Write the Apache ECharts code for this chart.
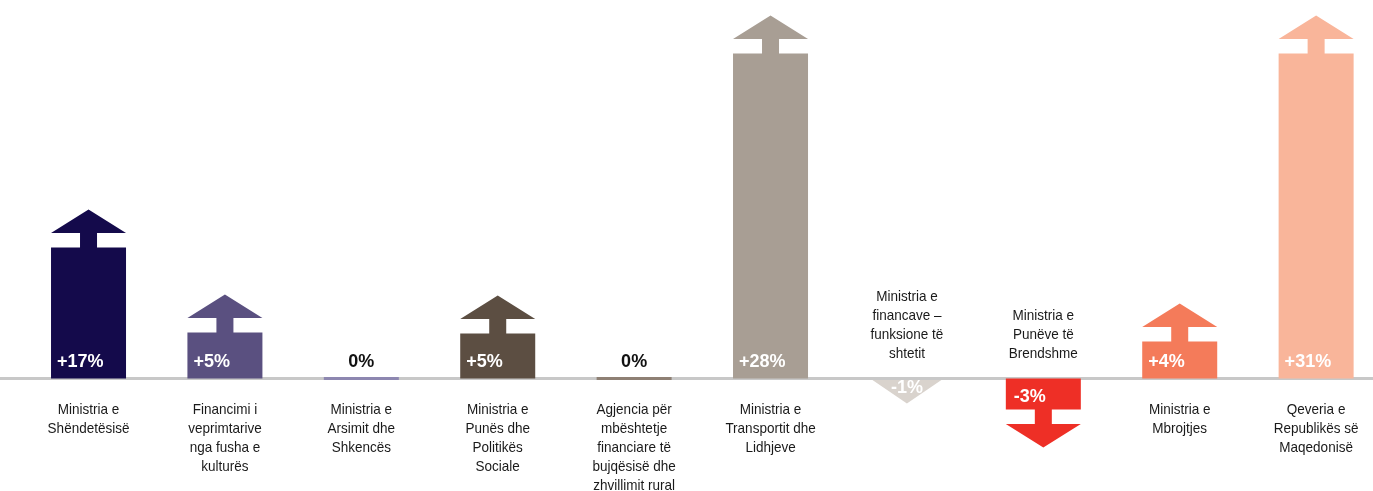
<!DOCTYPE html>
<html>
<head>
<meta charset="utf-8">
<script src="https://cdn.jsdelivr.net/npm/echarts@6/dist/echarts.min.js"></script>
<style>
  html, body { margin: 0; padding: 0; background: #fff; }
  #chart { width: 1373px; height: 491px; }
</style>
</head>
<body>
<div id="chart"></div>
<script>
// ministritë / institucionet
const categories = [
  'Ministria e\nShëndetësisë',
  'Financimi i\nveprimtarive\nnga fusha e\nkulturës',
  'Ministria e\nArsimit dhe\nShkencës',
  'Ministria e\nPunës dhe\nPolitikës\nSociale',
  'Agjencia për\nmbështetje\nfinanciare të\nbujqësisë dhe\nzhvillimit rural',
  'Ministria e\nTransportit dhe\nLidhjeve',
  'Ministria e\nfinancave –\nfunksione të\nshtetit',
  'Ministria e\nPunëve të\nBrendshme',
  'Ministria e\nMbrojtjes',
  'Qeveria e\nRepublikës së\nMaqedonisë'
]
// ndryshimi ne perqindje (teksti mbi shigjete)
const changeLabels = ['+17%', '+5%', '0%', '+5%', '0%', '+28%', '-1%', '-3%', '+4%', '+31%']
// lartesia e shigjetes (lexuar nga figura)
const barHeights = [131, 46, 0, 45, 0, 325, -1, -31, 37, 325]

const colors = ['#140a4b', '#5a5080', '#8d87b0', '#5c4e42', '#8e8074',
  '#a89e94', '#d9d3cd', '#ee2f26', '#f47b5a', '#f9b59a']

const BAR_W = 75
const STEM_W = 17
const STEM_H = 14.5
const HEAD_H = 23.5

function renderArrow(params, api) {
  const i = api.value(0)
  const v = api.value(1)
  const base = api.coord([i, 0])
  const top = api.coord([i, v])
  const cx = base[0]
  const l = cx - BAR_W / 2
  const r = cx + BAR_W / 2
  const by = base[1]
  const ty = top[1]
  const color = colors[i]
  const children = []
  const valFont = { fontFamily: '"Liberation Sans", Arial, sans-serif', fontSize: 18, fontWeight: 'bold' }

  if (v === 0) {
    children.push({ type: 'rect', shape: { x: l, y: by - 1.5, width: BAR_W, height: 3 }, style: { fill: color } })
    children.push({ type: 'text', style: Object.assign({ text: changeLabels[i], x: cx, y: by - 16.5, fill: '#111', align: 'center', verticalAlign: 'middle' }, valFont) })
  } else if (v > 0) {
    const sTop = ty - STEM_H
    children.push({
      type: 'polygon',
      shape: { points: [[l, by], [l, ty], [cx - STEM_W / 2, ty], [cx - STEM_W / 2, sTop], [l, sTop], [cx, sTop - HEAD_H],
        [r, sTop], [cx + STEM_W / 2, sTop], [cx + STEM_W / 2, ty], [r, ty], [r, by]] },
      style: { fill: color }
    })
    children.push({ type: 'text', style: Object.assign({ text: changeLabels[i], x: l + 6, y: by - 16.5, fill: '#fff', align: 'left', verticalAlign: 'middle' }, valFont) })
  } else if (Math.abs(ty - by) < 3) {
    // shume e vogel: vetem koka e shigjetes
    children.push({ type: 'polygon', shape: { points: [[l + 3, by + 1.5], [r - 3, by + 1.5], [cx, by + 1.5 + HEAD_H]] }, style: { fill: color } })
    children.push({ type: 'text', style: Object.assign({ text: changeLabels[i], x: cx, y: by + 9.5, fill: '#fff', align: 'center', verticalAlign: 'middle' }, valFont) })
  } else {
    const sBot = ty + STEM_H
    children.push({
      type: 'polygon',
      shape: { points: [[l, by], [l, ty], [cx - STEM_W / 2, ty], [cx - STEM_W / 2, sBot], [l, sBot], [cx, sBot + HEAD_H],
        [r, sBot], [cx + STEM_W / 2, sBot], [cx + STEM_W / 2, ty], [r, ty], [r, by]] },
      style: { fill: color }
    })
    children.push({ type: 'text', style: Object.assign({ text: changeLabels[i], x: l + 8, y: by + 18.5, fill: '#fff', align: 'left', verticalAlign: 'middle' }, valFont) })
  }

  // emri i kategorise (Arial pak e ngushte)
  const catStyle = { fontFamily: '"Liberation Sans", Arial, sans-serif', fontSize: 15, lineHeight: 19, fill: '#1a1a1a', align: 'center', x: 0, y: 0 }
  children.push({
    type: 'text',
    x: cx,
    y: v < 0 ? by - 15.5 : by + 21.5,
    scaleX: 0.9,
    style: Object.assign({ text: categories[i], verticalAlign: v < 0 ? 'bottom' : 'top' }, catStyle)
  })
  return { type: 'group', children: children }
}

const chart = echarts.init(document.getElementById('chart'))
chart.setOption({
  animation: false,
  grid: { left: 0, right: 0, top: 0, bottom: 0 },
  xAxis: {
    type: 'value',
    min: -0.649,
    max: 9.417,
    axisLine: { show: true, onZero: true, lineStyle: { color: '#c8c8c8', width: 3 } },
    axisTick: { show: false },
    axisLabel: { show: false },
    splitLine: { show: false }
  },
  yAxis: {
    type: 'value',
    min: -112.5,
    max: 378.5,
    show: false,
    splitLine: { show: false }
  },
  series: [{
    type: 'custom',
    renderItem: renderArrow,
    data: barHeights.map((h, i) => [i, h]),
    z: 5
  }]
})
</script>
</body>
</html>
